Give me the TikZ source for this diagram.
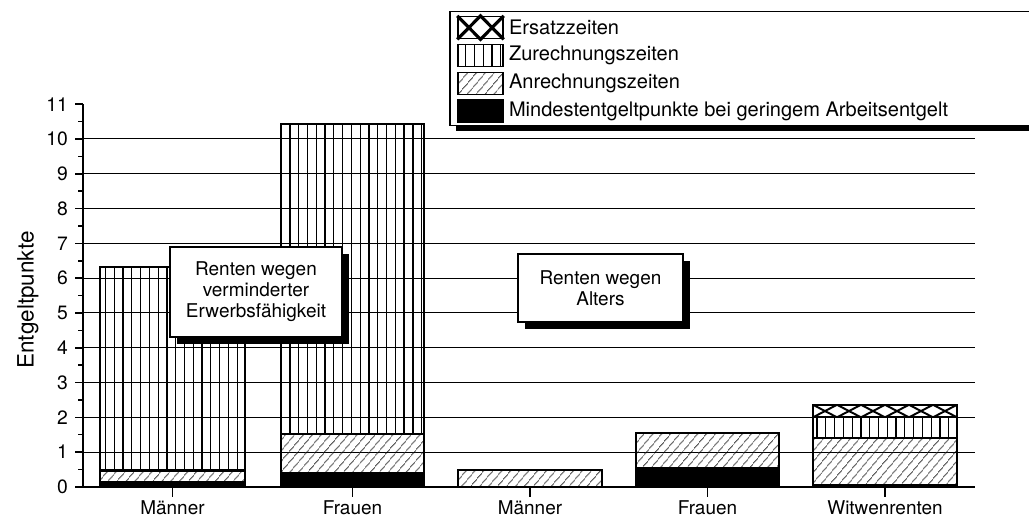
\documentclass[tikz,border=0pt]{standalone}
\usepackage{fontspec}
\setmainfont{TeX Gyre Heros}
\usetikzlibrary{positioning, patterns.meta, shadows}
\tikzset{
    lbl/.style={font=\fontsize{11.4}{13}\selectfont, inner sep=0pt},
    tick/.style={font=\fontsize{11}{12}\selectfont, inner sep=1pt},
    cat/.style={font=\fontsize{10.8}{12}\selectfont, inner sep=0pt},
    swatch/.style={draw, thick, minimum width=0.9cm, minimum height=0.44cm, inner sep=0pt},
    infobox/.style={draw, line width=0.9pt, fill=white, align=center, inner sep=0pt,
        font=\fontsize{10.8}{11.9}\selectfont,
        drop shadow={shadow xshift=4pt, shadow yshift=-4pt, fill=black, opacity=1}},
    grid/.style={line width=0.6pt},
    barline/.style={line width=1.2pt},
    vert/.style={pattern={Lines[angle=90, distance=5pt, line width=0.7pt]}},
    hatch/.style={pattern={Lines[angle=50, distance=4pt, line width=0.5pt]}},
}
\begin{document}
\begin{tikzpicture}[x=0.02cm, y=0.696cm]
    \useasboundingbox (0,-0.891) rectangle (1029,13.994);

    % grid and axis
    \foreach \v in {1,...,10}
        \draw[grid] (83,\v) -- (975,\v);
    \draw[line width=1pt] (83,0) -- (975,0);
    \draw[line width=1pt] (83,0) -- (83,11);
    \foreach \v in {0,...,11} {
        \draw[line width=0.9pt] (75,\v) -- (83,\v);
        \node[tick, anchor=east] (t\v) at (70,\v) {\v};
    }
    \foreach \v in {0.5,1.5,...,10.5}
        \draw[line width=0.9pt] (78,\v) -- (83,\v);
    \node[font=\fontsize{12.8}{14}\selectfont, rotate=90] (ylab) at (28,5.37) {Entgeltpunkte};

    % bars
    \fill (100,0) rectangle (245,0.14);
    \draw[barline, hatch] (100,0.14) rectangle (245,0.47);
    \draw[barline, vert] (100,0.47) rectangle (245,6.33);
    \draw[barline] (100,0) rectangle (245,6.33);

    \fill (281,0) rectangle (424,0.4);
    \draw[barline, hatch] (281,0.4) rectangle (424,1.52);
    \draw[barline, vert] (281,1.52) rectangle (424,10.43);
    \draw[barline] (281,0) rectangle (424,10.43);

    \draw[barline, hatch] (458,0) rectangle (602,0.49);

    \fill (636,0) rectangle (779,0.55);
    \draw[barline, hatch] (636,0.55) rectangle (779,1.55);
    \draw[barline] (636,0) rectangle (779,1.55);

    \fill (813,0) rectangle (957,0.06);
    \draw[barline, hatch] (813,0.06) rectangle (957,1.4);
    \draw[barline, vert] (813,1.4) rectangle (957,2.0);
    \begin{scope}
        \clip (813,2.0) rectangle (957,2.36);
        \foreach \i in {0,...,5} {
            \draw[line width=1.1pt] (813+24*\i,2.0) -- (837+24*\i,2.36);
            \draw[line width=1.1pt] (813+24*\i,2.36) -- (837+24*\i,2.0);
        }
    \end{scope}
    \draw[barline] (813,0) rectangle (957,2.36);
    \draw[barline] (813,2.0) -- (957,2.0);

    % categories
    \foreach \x/\t [count=\n] in {172.5/Männer, 352.5/Frauen, 530/Männer, 707.5/Frauen, 885/Witwenrenten} {
        \draw[line width=0.9pt] (\x,0) -- (\x,-0.29);
        \node[cat] (c\n) at (\x,-0.59) {\t};
    }

    % info boxes
    \node[infobox, minimum width=3.44cm, minimum height=1.8cm] (vme) at (256,5.60)
        {Renten wegen\\verminderter\\Erwerbsfähigkeit};
    \node[infobox, minimum width=3.3cm, minimum height=1.36cm] (alt) at (600.5,5.72)
        {Renten wegen\\Alters};

    % legend
    \filldraw[fill=white, line width=0.6pt,
        drop shadow={shadow xshift=3.4pt, shadow yshift=-3.4pt, fill=black, opacity=1}]
        (450,13.65) rectangle (1045,10.40);
    \node[swatch] (sw1) at (480.5,13.20) {};
    \draw[line width=1.8pt] (sw1.north west) -- (sw1.south) -- (sw1.north east)
        (sw1.south west) -- (sw1.north) -- (sw1.south east);
    \node[swatch, vert] (sw2) at (480.5,12.40) {};
    \node[swatch, hatch] (sw3) at (480.5,11.60) {};
    \node[swatch, fill=black] (sw4) at (480.5,10.80) {};
    \node[lbl, right=0.1cm of sw1] (lg1) {Ersatzzeiten};
    \node[lbl, right=0.1cm of sw2] (lg2) {Zurechnungszeiten};
    \node[lbl, right=0.1cm of sw3] (lg3) {Anrechnungszeiten};
    \node[lbl, right=0.1cm of sw4] (lg4) {Mindestentgeltpunkte bei geringem Arbeitsentgelt};
\end{tikzpicture}
\end{document}
